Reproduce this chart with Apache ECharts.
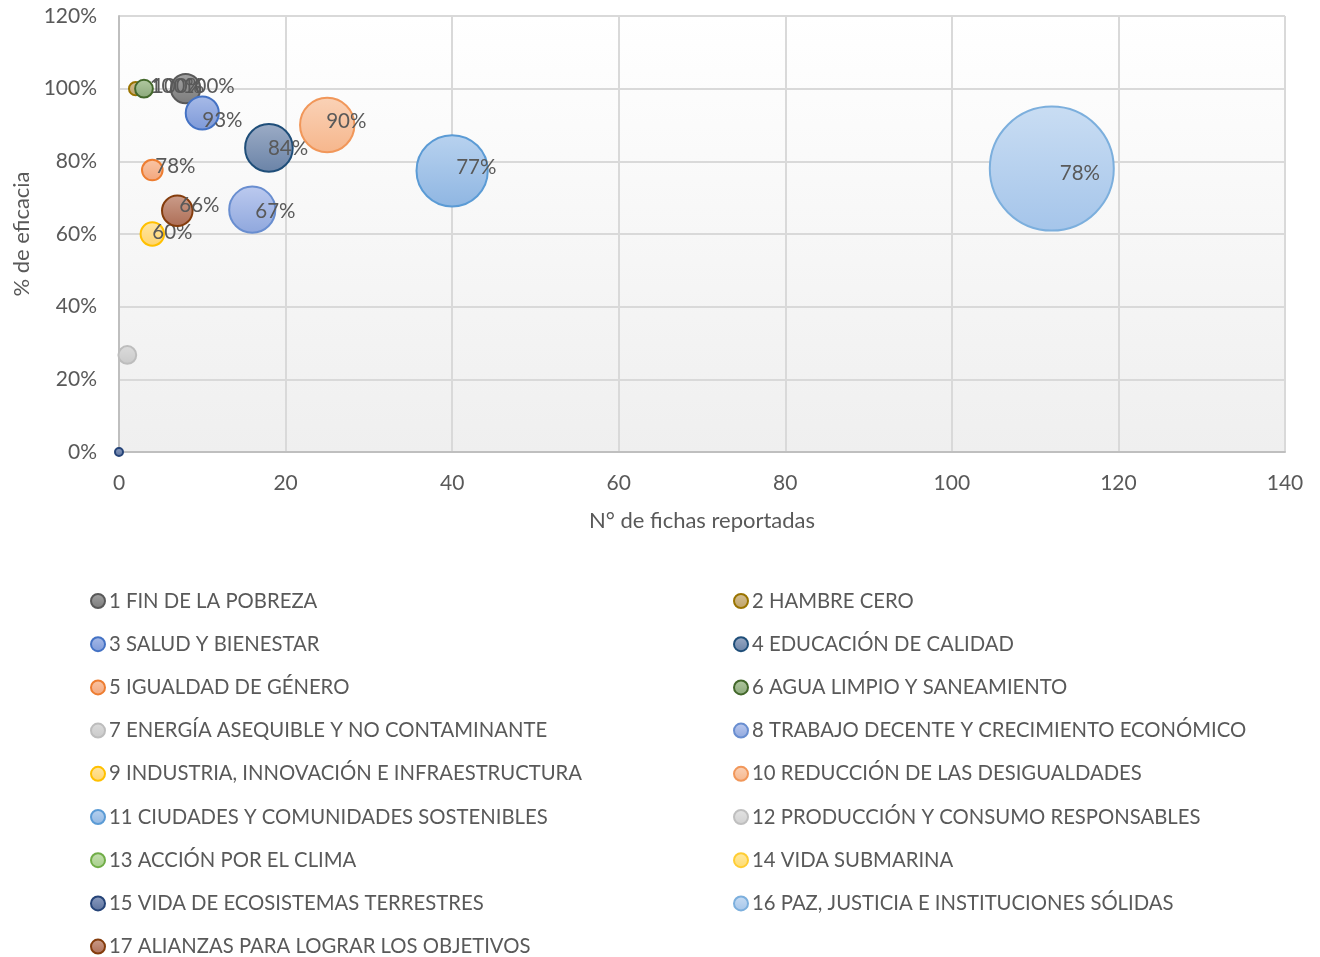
<!DOCTYPE html>
<html>
<head>
<meta charset="utf-8">
<script src="https://cdn.jsdelivr.net/npm/echarts@6/dist/echarts.min.js"></script>
<style>
  html, body { margin: 0; padding: 0; background: #ffffff; }
  #chart { width: 1320px; height: 957px; }
</style>
</head>
<body>
<div id="chart"></div>
<script>
// ODS names, one bubble series per goal
const seriesNames = [
  '1 FIN DE LA POBREZA',
  '2 HAMBRE CERO',
  '3 SALUD Y BIENESTAR',
  '4 EDUCACIÓN DE CALIDAD',
  '5 IGUALDAD DE GÉNERO',
  '6 AGUA LIMPIO Y SANEAMIENTO',
  '7 ENERGÍA ASEQUIBLE Y NO CONTAMINANTE',
  '8 TRABAJO DECENTE Y CRECIMIENTO ECONÓMICO',
  '9 INDUSTRIA, INNOVACIÓN E INFRAESTRUCTURA',
  '10 REDUCCIÓN DE LAS DESIGUALDADES',
  '11 CIUDADES Y COMUNIDADES SOSTENIBLES',
  '12 PRODUCCIÓN Y CONSUMO RESPONSABLES',
  '13 ACCIÓN POR EL CLIMA',
  '14 VIDA SUBMARINA',
  '15 VIDA DE ECOSISTEMAS TERRESTRES',
  '16 PAZ, JUSTICIA E INSTITUCIONES SÓLIDAS',
  '17 ALIANZAS PARA LOGRAR LOS OBJETIVOS'
];

// N° de fichas reportadas (x); null = no data for that goal
const fichas = [8, 2, 10, 18, 4, 3, 1, 16, 4, 25, 40, null, null, null, 0, 112, 7];
// % de eficacia (y)
const eficacia = [100, 100, 93.3, 83.7, 77.6, 100, 26.7, 66.7, 60, 90, 77.4, null, null, null, 0, 78, 66.4];
// bubble size values
const burbuja = [6.3, 1.3, 8, 16.5, 3.1, 2.3, 2.3, 15.5, 4, 21.5, 37, null, null, null, 0.35, 112, 6.8];
// which bubbles carry a data label
const conEtiqueta = [true, true, true, true, true, true, false, true, true, true, true, false, false, false, false, true, true];

const xTicks = { min: 0, max: 140, interval: 20 };
const yTicks = { min: 0, max: 120, interval: 20 };

// fill top, fill bottom, outline
const palette = [
  ['#a3a3a3', '#7b7b7b', '#595959'],
  ['#d4c094', '#bfa267', '#9a7400'],
  ['#a8bbe8', '#7d99d8', '#4472c4'],
  ['#9cacc6', '#6a83a7', '#1f4e79'],
  ['#f9c6a6', '#f3a67c', '#ed7d31'],
  ['#b2c9a2', '#8aa879', '#43682b'],
  ['#dcdcdc', '#c9c9c9', '#bdbdbd'],
  ['#bccaef', '#8fa7dd', '#698ed0'],
  ['#ffe6a4', '#ffd46c', '#ffc000'],
  ['#fad2b7', '#f6b68c', '#f1975a'],
  ['#b8d2ef', '#8fb6e2', '#5b9bd5'],
  ['#e4e4e4', '#d0d0d0', '#bfbfbf'],
  ['#c6e0b2', '#a6cf89', '#70ad47'],
  ['#ffeaa3', '#ffdb6e', '#ffcd33'],
  ['#8d9ec2', '#5b719c', '#264478'],
  ['#c9ddf3', '#a5c5ea', '#7cafdd'],
  ['#cb9d8b', '#ad6d55', '#843c0c']
];

// label nudge (px) from the bubble centre, per series
const labelNudge = [
  [-3, -2], [14, -2], [0, 7], [-1, 1], [3, -4], [8, -2], [0, 0], [3, 2], [0, -2],
  [-1, -4], [4, -3], [0, 0], [0, 0], [0, 0], [0, 0], [8, 5], [2, -5]
];

const maxSize = Math.max(...burbuja.filter(v => v != null));
const maxDiameter = 124;

function grad(top, bottom) {
  return new echarts.graphic.LinearGradient(0, 0, 0, 1, [
    { offset: 0, color: top },
    { offset: 1, color: bottom }
  ]);
}

const FONT = 'Lato';
const TEXT = '#595959';

const series = seriesNames.map((name, i) => {
  const data = fichas[i] == null ? [] : [[fichas[i], eficacia[i], burbuja[i]]];
  return {
    name: name,
    type: 'scatter',
    data: data,
    symbol: 'circle',
    symbolSize: v => Math.max(8, maxDiameter * Math.sqrt(v[2] / maxSize)),
    itemStyle: {
      color: grad(palette[i][0], palette[i][1]),
      borderColor: palette[i][2],
      borderWidth: 2,
      opacity: 1
    },
    label: {
      show: conEtiqueta[i],
      position: ['50%', '50%'],
      align: 'left',
      verticalAlign: 'middle',
      offset: labelNudge[i],
      formatter: p => Math.round(p.value[1]) + '%',
      color: TEXT,
      fontFamily: FONT,
      fontSize: 20.5
    },
    emphasis: { disabled: true },
    z: 2 + i
  };
});

// two legend columns: odd goals on the left, even goals on the right
function legendBlock(indices, left) {
  return {
    orient: 'vertical',
    left: left,
    top: 591,
    height: 400,
    padding: 0,
    itemGap: 23.2,
    itemWidth: 14,
    itemHeight: 14,
    icon: 'circle',
    selectedMode: false,
    textStyle: { color: TEXT, fontFamily: FONT, fontSize: 20.3, padding: [0, 0, 0, -1] },
    data: indices.map(i => ({
      name: seriesNames[i],
      itemStyle: { color: grad(palette[i][0], palette[i][1]), borderColor: palette[i][2], borderWidth: 2 }
    }))
  };
}

const option = {
  animation: false,
  grid: {
    left: 119, right: 35, top: 16, bottom: 505,
    show: true,
    borderWidth: 0,
    backgroundColor: new echarts.graphic.LinearGradient(0, 0, 0, 1, [
      { offset: 0, color: '#ffffff' },
      { offset: 1, color: '#efefef' }
    ])
  },
  legend: [
    legendBlock([0, 2, 4, 6, 8, 10, 12, 14, 16], 90),
    legendBlock([1, 3, 5, 7, 9, 11, 13, 15], 733)
  ],
  xAxis: {
    type: 'value',
    min: xTicks.min, max: xTicks.max, interval: xTicks.interval,
    name: 'N° de fichas reportadas',
    nameLocation: 'middle',
    nameGap: 58,
    nameTextStyle: { color: TEXT, fontFamily: FONT, fontSize: 22 },
    axisLine: { show: true, lineStyle: { color: '#bfbfbf', width: 2 } },
    axisTick: { show: false },
    axisLabel: { color: TEXT, fontFamily: FONT, fontSize: 21, margin: 21 },
    splitLine: { show: true, lineStyle: { color: '#d9d9d9', width: 2 } }
  },
  yAxis: {
    type: 'value',
    min: yTicks.min, max: yTicks.max, interval: yTicks.interval,
    name: '% de eficacia',
    nameLocation: 'middle',
    nameGap: 86,
    nameTextStyle: { color: TEXT, fontFamily: FONT, fontSize: 22 },
    axisLine: { show: true, lineStyle: { color: '#bfbfbf', width: 2 } },
    axisTick: { show: false },
    axisLabel: { color: TEXT, fontFamily: FONT, fontSize: 21, margin: 22, formatter: '{value}%' },
    splitLine: { show: true, lineStyle: { color: '#d9d9d9', width: 2 } }
  },
  series: series
};

const chart = echarts.init(document.getElementById('chart'), null, { renderer: 'canvas' });
chart.setOption(option);
</script>
</body>
</html>
